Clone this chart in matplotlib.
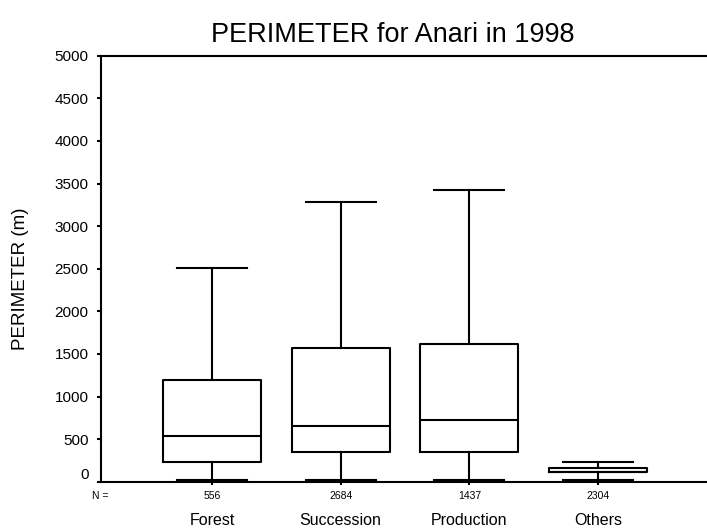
import matplotlib
matplotlib.use("Agg")
import matplotlib.pyplot as plt
import matplotlib.transforms as mtransforms

plt.rcParams['font.family'] = ['Liberation Sans', 'DejaVu Sans']

# values (perimeter in m)
categories = ["Forest", "Succession", "Production", "Others"]
counts = [556, 2684, 1437, 2304]
whisk_lo = [15, 15, 15, 15]
q1 = [235, 349, 349, 110]
median = [536, 657, 730, 114]
q3 = [1195, 1573, 1620, 164]
whisk_hi = [2510, 3283, 3424, 231]
yticks = list(range(0, 5001, 500))

stats = []
for i in range(len(categories)):
    stats.append({"label": categories[i], "whislo": whisk_lo[i], "q1": q1[i],
                  "med": median[i], "q3": q3[i], "whishi": whisk_hi[i], "fliers": []})

W, H = 707, 531
fig = plt.figure(figsize=(W / 100, H / 100), dpi=100)
ax = fig.add_axes([101 / W, 1 - 481.7 / H, 1 - 101 / W, (481.7 - 55.7) / H])

lw = 1.5
line = dict(color="black", linewidth=lw)
pos = list(range(1, len(categories) + 1))
ax.bxp(stats, positions=pos, widths=0.76, capwidths=0.545, showfliers=False,
       boxprops=line, whiskerprops=line, capprops=line, medianprops=line)

ax.set_xlim(0.1375, 4.847)
ax.set_ylim(0, 5000)
ax.set_yticks(yticks)
ax.set_yticklabels([str(v) for v in yticks], fontsize=11)
ax.tick_params(axis="y", direction="out", length=3, width=lw, pad=6)

ax.set_xticks(pos)
ax.set_xticklabels([str(c) for c in counts], fontsize=7.5)
ax.tick_params(axis="x", direction="out", length=2.5, width=lw, pad=4)

# SPSS nudges the "0" label up off the axis line
lab0 = ax.get_yticklabels()[0]
lab0.set_transform(lab0.get_transform() + mtransforms.ScaledTranslation(0, 8 / 100, fig.dpi_scale_trans))

for s in ["left", "bottom", "top"]:
    ax.spines[s].set_linewidth(lw)
ax.spines["right"].set_visible(False)

blend = mtransforms.blended_transform_factory(ax.transData, fig.transFigure)
for p, c in zip(pos, categories):
    ax.text(p, 1 - 520.7 / H, c, transform=blend, ha="center", va="center", fontsize=11.5)
fig.text(100 / W, 1 - 496 / H, "N =", ha="center", va="center", fontsize=7.5)

fig.text(393 / W, 1 - 41.5 / H, "PERIMETER for Anari in 1998", ha="center", va="baseline", fontsize=19.5)
fig.text(21 / W, 1 - 279 / H, "PERIMETER (m)", rotation=90, ha="center", va="center", fontsize=13.5)

fig.savefig("out.png", dpi=100)
